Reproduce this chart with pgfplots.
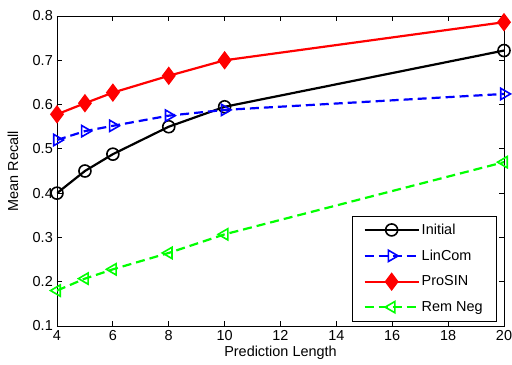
\documentclass[border=0pt]{standalone}
\usepackage{pgfplots}
\pgfplotsset{compat=1.18}
\usepackage{fontspec}
\setmainfont{Liberation Sans}
\begin{document}
\begin{tikzpicture}
\useasboundingbox (-57bp,-39bp) rectangle (455bp,326bp);
\begin{axis}[
  at={(0,0)}, anchor=south west,
  scale only axis, width=447bp, height=310bp,
  xmin=4, xmax=20, ymin=0.1, ymax=0.8,
  xtick={4,6,...,20}, ytick={0.1,0.2,...,0.8},
  /pgf/number format/assume math mode=true,
  tick label style={font=\fontsize{14.5}{17}\selectfont},
  xticklabel style={inner sep=4bp},
  yticklabel style={inner sep=4bp, /pgf/number format/fixed, /pgf/number format/fixed zerofill, /pgf/number format/precision=1},
  label style={font=\fontsize{14.5}{17}\selectfont},
  xlabel={Prediction Length}, ylabel={Mean Recall},
  xlabel style={at={(axis description cs:0.5,-0.0968)}, anchor=base},
  ylabel style={at={(axis description cs:-0.0984,0.5)}, anchor=center},
  tick align=inside, major tick length=5bp,
  tick style={line width=0.8bp, black},
  axis line style={line width=0.8bp},
  xtick pos=both, ytick pos=both,
  legend style={at={(0.982,0.016)}, anchor=south east, font=\fontsize{14.5}{17}\selectfont, draw=black, row sep=10bp, inner xsep=11bp, inner ysep=6bp},
  legend cell align=left,
  legend image code/.code={
    \draw[mark repeat=2,mark phase=2] plot coordinates {(0bp,0bp) (27bp,0bp) (54bp,0bp)};
  },
]
\addplot[black, line width=2.2bp, mark=o, mark size=6bp, mark options={solid, line width=1.6bp}] coordinates {
(4,0.400) (5,0.450) (6,0.488) (8,0.550) (10,0.595) (20,0.722)};
\addlegendentry{Initial}
\addplot[blue, dash pattern=on 9bp off 5bp, line width=2.2bp, mark=triangle, mark size=6.5bp, mark options={solid, rotate=-90, line width=1.6bp}] coordinates {
(4,0.520) (5,0.540) (6,0.552) (8,0.575) (10,0.588) (20,0.624)};
\addlegendentry{LinCom}
\addplot[red, line width=2.2bp, mark=diamond*, mark size=7.5bp, mark options={solid, fill=red}] coordinates {
(4,0.578) (5,0.603) (6,0.627) (8,0.665) (10,0.700) (20,0.786)};
\addlegendentry{ProSIN}
\addplot[green, dash pattern=on 9bp off 5bp, line width=2.2bp, mark=triangle, mark size=6.5bp, mark options={solid, rotate=90, line width=1.6bp}] coordinates {
(4,0.180) (5,0.207) (6,0.228) (8,0.265) (10,0.307) (20,0.470)};
\addlegendentry{Rem Neg\hspace{16bp}}
\end{axis}
\end{tikzpicture}
\end{document}
